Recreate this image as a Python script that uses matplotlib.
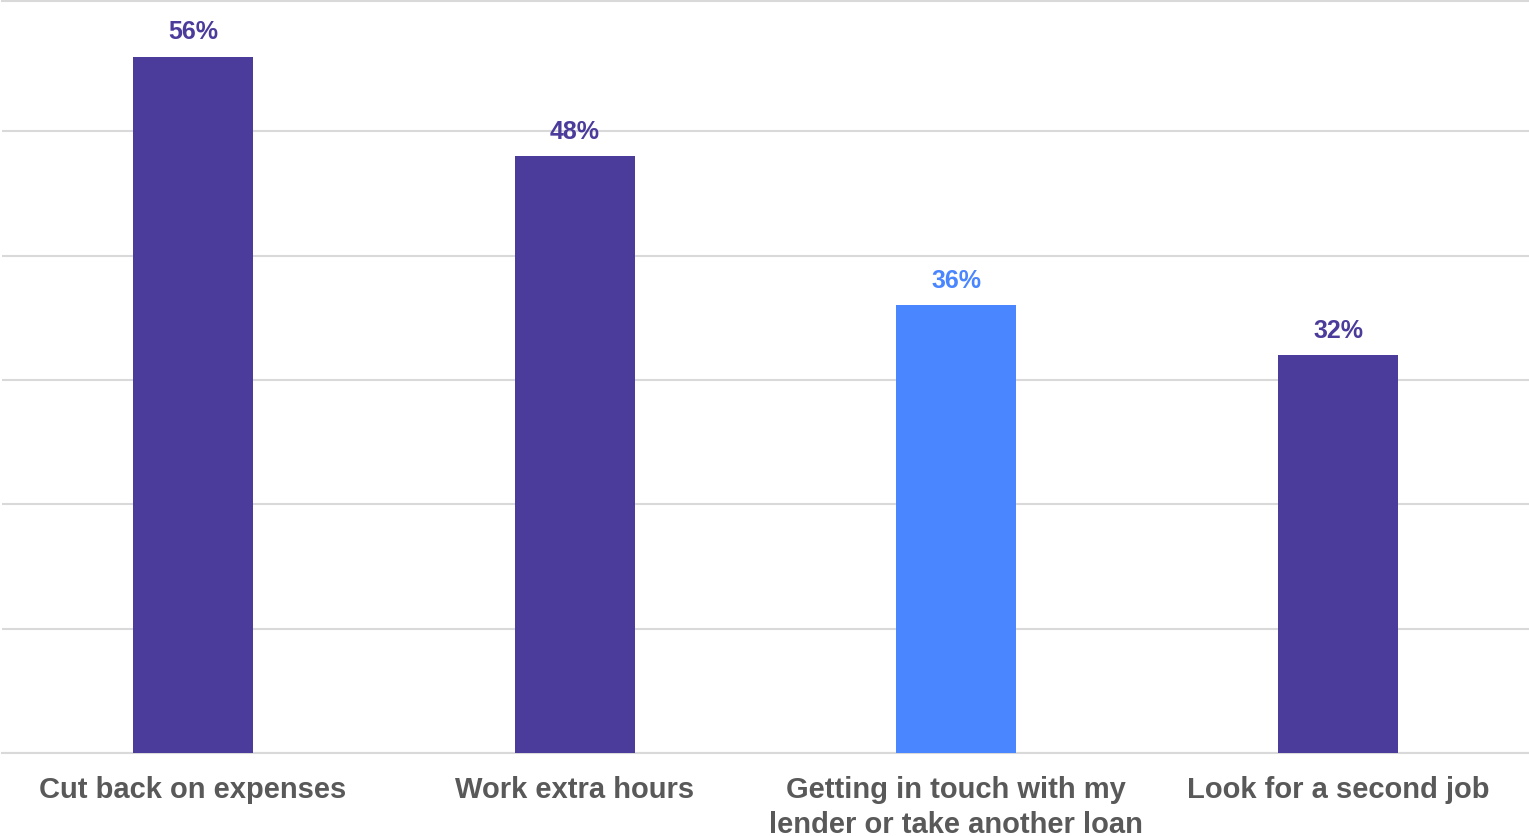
import matplotlib.pyplot as plt

plt.rcParams['font.family'] = ['Liberation Sans', 'DejaVu Sans']

# Survey responses
categories = ['Cut back on expenses', 'Work extra hours',
              'Getting in touch with my\nlender or take another loan',
              'Look for a second job']
values = [56, 48, 36, 32]
bar_colors = ['#4B3C9C', '#4B3C9C', '#4A86FF', '#4B3C9C']

fig = plt.figure(figsize=(15.29, 8.36), dpi=100)
ax = fig.add_axes([0.0013, 0.0993, 0.9987, 0.9])

x = range(len(categories))
bars = ax.bar(x, values, width=0.314, color=bar_colors, zorder=3)

for b, v, c in zip(bars, values, bar_colors):
    ax.annotate(f'{v}%', (b.get_x() + b.get_width() / 2, v),
                xytext=(0, 9), textcoords='offset points',
                ha='center', va='bottom', fontsize=18, fontweight='bold', color=c)

ax.set_xlim(-0.5, len(categories) - 0.5)
ax.set_ylim(0, 60.5)
ax.set_yticks(range(0, 51, 10))
ax.yaxis.grid(True, color='#D9D9D9', linewidth=1.5, zorder=0)
ax.tick_params(axis='y', left=False, labelleft=False)
ax.tick_params(axis='x', bottom=False, pad=13)
ax.set_xticks(list(x))
ax.set_xticklabels(categories, fontsize=21, fontweight='bold', color='#595959',
                   linespacing=1.3, va='top')
for s in ['right', 'left']:
    ax.spines[s].set_visible(False)
for s in ['top', 'bottom']:
    ax.spines[s].set_color('#D9D9D9')
    ax.spines[s].set_linewidth(1.5)
ax.set_axisbelow(True)

fig.savefig('out.png', dpi=100)
